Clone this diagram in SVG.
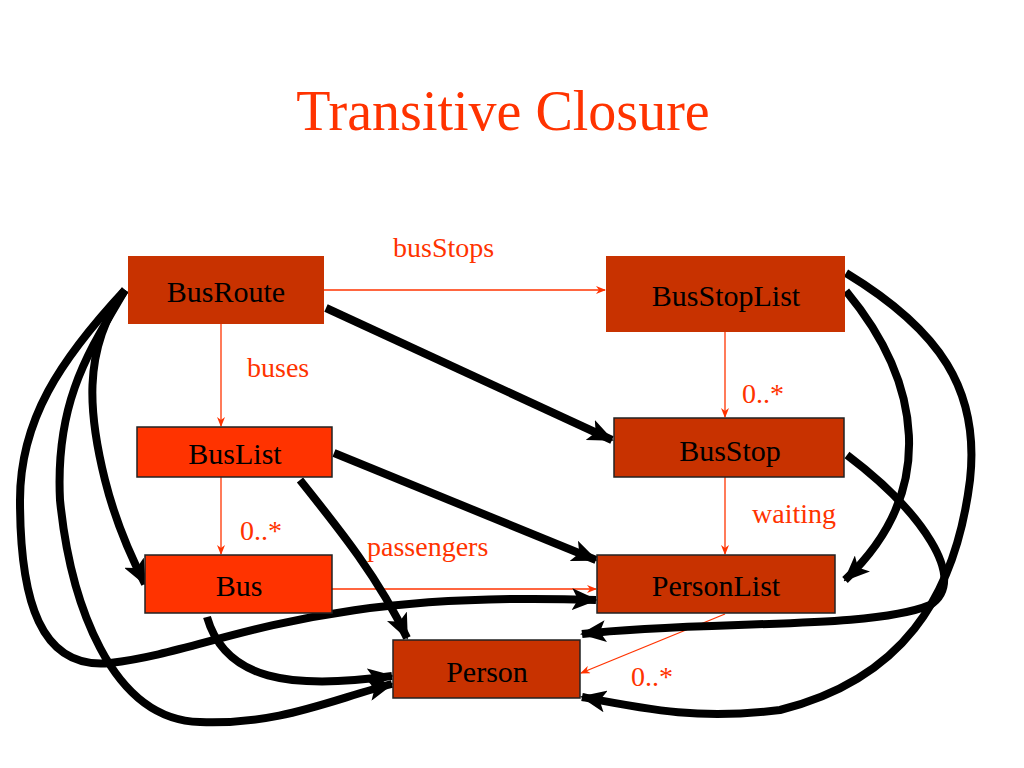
<svg xmlns="http://www.w3.org/2000/svg" width="1024" height="768" viewBox="0 0 1024 768">
<style>
.t{font-family:"Liberation Serif",serif;font-size:30px;fill:#000;text-anchor:middle}
.l{font-family:"Liberation Serif",serif;font-size:28px;fill:#ff3300}
.dk{fill:#c83200}
.br{fill:#ff3300;stroke:#222;stroke-width:1.5}
.dkb{fill:#c83200;stroke:#222;stroke-width:1.5}
.thin{stroke:#ff3300;stroke-width:1.3;fill:none;marker-end:url(#ta)}
.thick{stroke:#000;stroke-width:8;fill:none;marker-end:url(#ba)}
</style>
<defs>
<marker id="ta" markerWidth="10" markerHeight="8" refX="9" refY="4" orient="auto" markerUnits="userSpaceOnUse"><path d="M0,0 L10,4 L0,8 L3,4 Z" fill="#ff3300"/></marker>
<marker id="ba" markerWidth="26" markerHeight="22" refX="24" refY="11" orient="auto" markerUnits="userSpaceOnUse"><path d="M0,0 L26,11 L0,22 L6,11 Z" fill="#000"/></marker>
</defs>
<rect width="1024" height="768" fill="#fff"/>
<text x="503" y="130" style="font-family:'Liberation Serif',serif;font-size:56px;fill:#ff3300;text-anchor:middle">Transitive Closure</text>
<g id="connectors">
<path class="thin" d="M324,290 H605"/>
<path class="thin" d="M221,324 V426"/>
<path class="thin" d="M221,477 V554"/>
<path class="thin" d="M725,332 V417"/>
<path class="thin" d="M725,477 V554"/>
<path class="thin" d="M332,589 H596"/>
<path class="thin" d="M725,614 L581,673"/>
<path class="thick" d="M326,308 L612,440"/>
<path class="thick" d="M334,453 L596,560"/>
<path class="thick" d="M300,480 C340,530 380,580 407,638"/>
<path class="thick" d="M207,617 C225,680 290,690 392,676"/>
<path class="thick" d="M125,290 C80,350 90,420 105,480 C115,520 130,555 145,584"/>
<path class="thick" d="M125,290 C90,350 55,400 60,500 C70,600 110,720 200,722 C280,725 330,700 392,684"/>
<path class="thick" d="M125,290 C60,360 20,420 20,500 C20,600 40,670 110,663 C220,650 300,590 596,600"/>
<path class="thick" d="M846,291 C920,380 940,490 845,580"/>
<path class="thick" d="M846,273 C940,330 980,390 970,480 C955,600 900,680 780,710 C700,720 650,710 582,697"/>
<path class="thick" d="M847,455 C920,510 970,580 930,605 C870,630 700,620 582,634"/>
</g>
<g id="BusRoute"><rect class="dk" x="128" y="256" width="196" height="68"/><text class="t" x="226" y="302">BusRoute</text></g>
<g id="BusStopList"><rect class="dk" x="606" y="256" width="239" height="76"/><text class="t" x="726" y="306">BusStopList</text></g>
<g id="BusList"><rect class="br" x="137" y="427" width="195" height="50"/><text class="t" x="235" y="464">BusList</text></g>
<g id="BusStop"><rect class="dkb" x="614" y="418" width="230" height="59"/><text class="t" x="730" y="461">BusStop</text></g>
<g id="Bus"><rect class="br" x="145" y="555" width="187" height="58"/><text class="t" x="239" y="596">Bus</text></g>
<g id="PersonList"><rect class="dkb" x="597" y="555" width="238" height="58"/><text class="t" x="716" y="596">PersonList</text></g>
<g id="Person"><rect class="dkb" x="393" y="640" width="187" height="58"/><text class="t" x="487" y="682">Person</text></g>
<g id="labels">
<text class="l" x="393" y="257">busStops</text>
<text class="l" x="247" y="377">buses</text>
<text class="l" x="240" y="540">0..*</text>
<text class="l" x="742" y="403">0..*</text>
<text class="l" x="752" y="523">waiting</text>
<text class="l" x="367" y="556">passengers</text>
<text class="l" x="631" y="686">0..*</text>
</g>
</svg>
